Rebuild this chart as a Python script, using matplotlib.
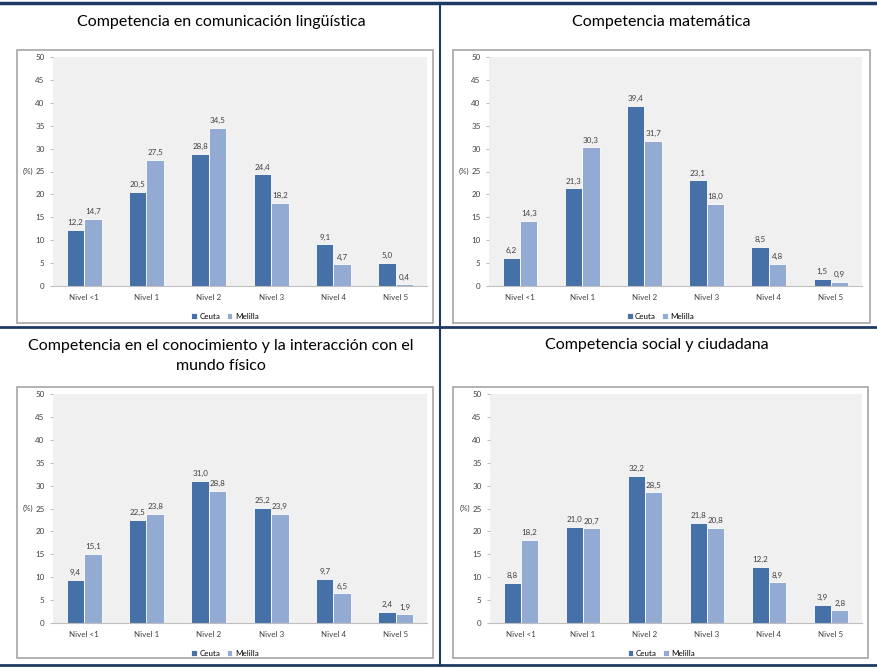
import matplotlib
matplotlib.use("Agg")
from matplotlib import pyplot as plt
from matplotlib.patches import Rectangle
from matplotlib.lines import Line2D
import numpy as np

niveles = ["Nivel <1", "Nivel 1", "Nivel 2", "Nivel 3", "Nivel 4", "Nivel 5"]

titulos = [
    "Competencia en comunicación lingüística",
    "Competencia matemática",
    "Competencia en el conocimiento y la interacción con el\nmundo físico",
    "Competencia social y ciudadana",
]

ceuta_linguistica = [12.2, 20.5, 28.8, 24.4, 9.1, 5.0]
melilla_linguistica = [14.7, 27.5, 34.5, 18.2, 4.7, 0.4]
ceuta_matematica = [6.2, 21.3, 39.4, 23.1, 8.5, 1.5]
melilla_matematica = [14.3, 30.3, 31.7, 18.0, 4.8, 0.9]
ceuta_fisico = [9.4, 22.5, 31.0, 25.2, 9.7, 2.4]
melilla_fisico = [15.1, 23.8, 28.8, 23.9, 6.5, 1.9]
ceuta_social = [8.8, 21.0, 32.2, 21.8, 12.2, 3.9]
melilla_social = [18.2, 20.7, 28.5, 20.8, 8.9, 2.8]

W, H = 878, 670
COL_CEUTA = "#4670a8"
COL_MELILLA = "#93aad3"
NAVY = "#1f3a62"

fig = plt.figure(figsize=(W / 100, H / 100), dpi=100)
fig.patch.set_facecolor("white")


def fx(x):
    return x / W


def fy(y):
    return 1 - y / H


def panel(title, title_xy, box, ax_box, ceuta, melilla):
    # outer chart box, behind the axes
    bx0, by0, bx1, by1 = box
    fig.patches.append(Rectangle((fx(bx0), fy(by1)), fx(bx1) - fx(bx0), fy(by0) - fy(by1),
                                 transform=fig.transFigure, facecolor="white",
                                 edgecolor="#a6a6a6", linewidth=1.2, zorder=-5))
    ax0, ay0, ax1, ay1 = ax_box
    ax = fig.add_axes([fx(ax0), fy(ay1), fx(ax1) - fx(ax0), fy(ay0) - fy(ay1)])
    ax.set_zorder(2)
    ax.set_facecolor("#f0f0f0")
    x = np.arange(len(niveles))
    w = 0.28
    b1 = ax.bar(x - w / 2, ceuta, w, color=COL_CEUTA, edgecolor="white", linewidth=0.6, label="Ceuta", zorder=2)
    b2 = ax.bar(x + w / 2, melilla, w, color=COL_MELILLA, edgecolor="white", linewidth=0.6, label="Melilla", zorder=2)
    for bars, vals in ((b1, ceuta), (b2, melilla)):
        for r, v in zip(bars, vals):
            ax.text(r.get_x() + r.get_width() / 2, v + 0.8, f"{v:.1f}".replace(".", ","),
                    ha="center", va="bottom", fontsize=5.8, color="#404040", family="Lato")
    ax.set_xlim(-0.5, 5.5)
    ax.set_ylim(0, 50)
    ax.set_yticks(range(0, 51, 5))
    ax.set_xticks(x)
    ax.set_xticklabels(niveles, fontsize=5.8, color="#404040", family="Lato")
    ax.tick_params(axis="y", labelsize=5.8, labelcolor="#404040", length=2, color="#bfbfbf", pad=4)
    ax.tick_params(axis="x", length=0, pad=6)
    for lab in ax.get_yticklabels():
        lab.set_family("Lato")
    for s in ("top", "right", "left"):
        ax.spines[s].set_visible(False)
    ax.spines["bottom"].set_color("#bfbfbf")
    ax.text(-0.052, 0.5, "(%)", transform=ax.transAxes, fontsize=5.8, color="#404040",
            ha="right", va="center", family="Lato")
    ax.legend(loc="upper center", bbox_to_anchor=(0.46, -0.085), ncol=2, frameon=False,
              handlelength=0.7, handleheight=0.7, handletextpad=0.3,
              columnspacing=0.8, prop={"family": "Lato", "size": 5.8})
    fig.text(fx(title_xy[0]), fy(title_xy[1]), title, ha="center", va="center",
             fontsize=11.5, family="Lato", color="black", linespacing=1.6)
    return ax


panel(titulos[0], (221, 22), (17, 50, 433, 323), (53, 57, 427, 286),
      ceuta_linguistica, melilla_linguistica)
panel(titulos[1], (661, 22), (453, 50, 870, 323), (489, 57, 862, 286),
      ceuta_matematica, melilla_matematica)
panel(titulos[2], (221, 356), (17, 387, 433, 658), (53, 394, 427, 623),
      ceuta_fisico, melilla_fisico)
panel(titulos[3], (657, 345), (453, 387, 868, 658), (490, 394, 862, 623),
      ceuta_social, melilla_social)

# dark frame lines between the four charts
for (x0, y0, x1, y1, lw) in [(0, 3, W, 3, 2.5), (0, 327, W, 327, 2.0),
                             (0, 665, W, 665, 2.0), (440, 3, 440, 665, 1.5)]:
    fig.lines.append(Line2D([fx(x0), fx(x1)], [fy(y0), fy(y1)], transform=fig.transFigure,
                            color=NAVY, linewidth=lw))

fig.savefig("out.png", dpi=100)
